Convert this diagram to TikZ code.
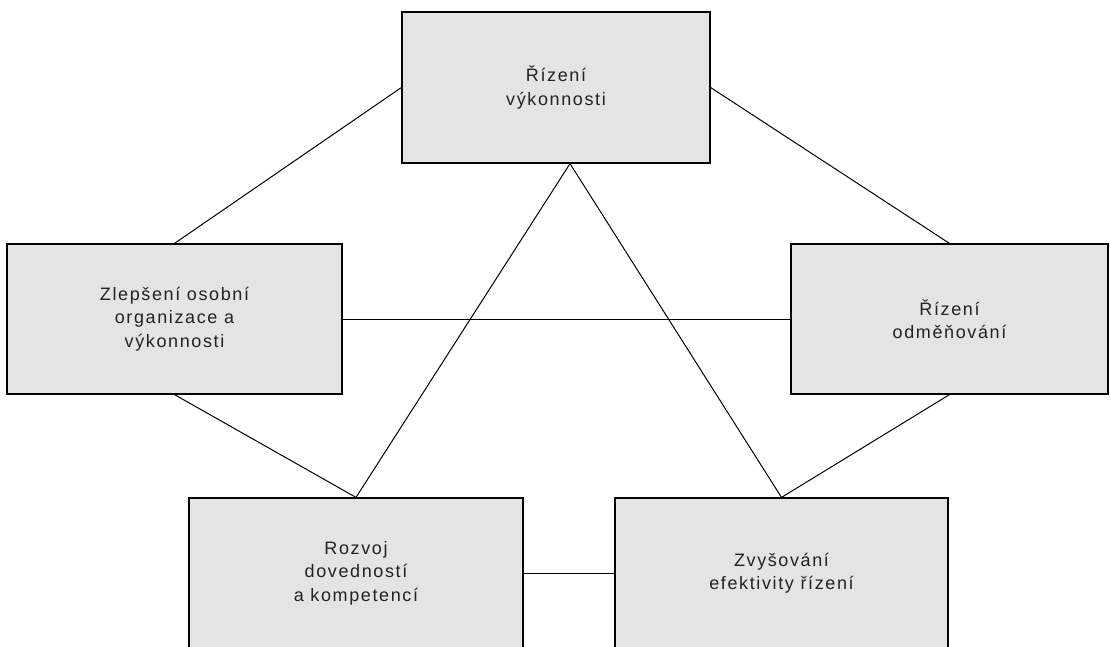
\documentclass[tikz,border=0pt]{standalone}
\usepackage{fontspec}
\setmainfont{Liberation Sans}[LetterSpace=9]
\usetikzlibrary{calc}
\definecolor{boxfill}{HTML}{E4E4E4}
\definecolor{inkgray}{HTML}{222222}
\tikzset{
  box/.style={draw=black, line width=1.2pt, fill=boxfill, rectangle,
    align=center, text=inkgray, font=\fontsize{18}{23.5}\selectfont,
    inner sep=0pt},
  link/.style={draw=black, line width=1pt}
}
\begin{document}
\begin{tikzpicture}[x=1pt, y=-1pt]
  \useasboundingbox (0,0) rectangle (1111,646);
  \clip (0,0) rectangle (1111,646);
  % boxes
  \node[box, minimum width=308pt, minimum height=151pt] (perf) at (556,87.5) {Řízení\\výkonnosti};
  \node[box, minimum width=335pt, minimum height=150pt] (pers) at (174.5,319) {Zlepšení osobní\\organizace a\\výkonnosti};
  \node[box, minimum width=317pt, minimum height=150pt] (rew) at (949.5,319) {Řízení\\odměňování};
  \node[box, minimum width=334pt, minimum height=150pt] (skill) at (356,573) {Rozvoj\\dovedností\\a kompetencí};
  \node[box, minimum width=333pt, minimum height=150pt] (mgmt) at (781.5,573) {Zvyšování\\efektivity řízení};
  % connectors
  \coordinate (apex) at ($(perf.south)+(14,0)$);
  \draw[link] (perf.west) -- (pers.north);
  \draw[link] (perf.east) -- (rew.north);
  \draw[link] (apex) -- (skill.north);
  \draw[link] (apex) -- (mgmt.north);
  \draw[link] (pers.east) -- (rew.west);
  \draw[link] (pers.south) -- (skill.north);
  \draw[link] (rew.south) -- (mgmt.north);
  \draw[link] (skill.east) -- (mgmt.west);
\end{tikzpicture}
\end{document}
